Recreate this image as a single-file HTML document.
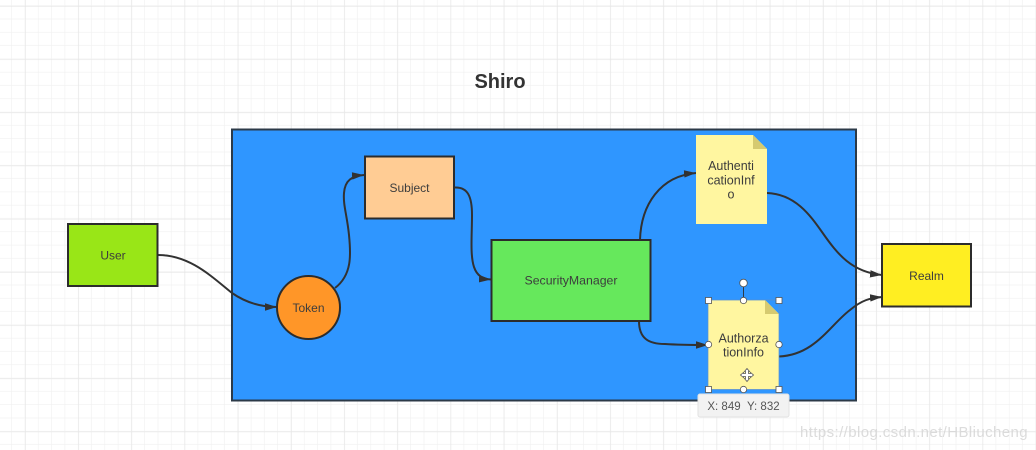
<!DOCTYPE html>
<html><head><meta charset="utf-8">
<style>
html,body{margin:0;padding:0;width:1036px;height:450px;overflow:hidden;background:#fff}
svg{display:block}
text{font-family:"Liberation Sans",sans-serif;fill:#3d3d3d;text-anchor:middle}
</style></head><body>
<svg width="1036" height="450" viewBox="0 0 1036 450" xmlns="http://www.w3.org/2000/svg">
<defs>
<pattern id="mi" x="-1.3" y="-7.3" width="13.3" height="13.3" patternUnits="userSpaceOnUse">
<path d="M13.3 0V13.3M0 13.3H13.3" stroke="#f0f0f0" stroke-width="1.2" fill="none"/></pattern>
<pattern id="ma" x="25" y="6" width="53.2" height="53.2" patternUnits="userSpaceOnUse">
<path d="M0 0V53.2M0 0H53.2" stroke="#e6e6e6" stroke-width="1.3" fill="none"/></pattern>
<marker id="a" markerUnits="userSpaceOnUse" markerWidth="13" markerHeight="9" refX="12" refY="4.500" orient="auto">
<path d="M0 0.800L12 4.500L0 8.200Z" fill="#323232"/></marker>
</defs>
<rect width="1036" height="450" fill="#fff"/>
<rect width="1036" height="450" fill="url(#mi)"/>
<rect width="1036" height="450" fill="url(#ma)"/>

<text x="500" y="88" font-size="20" font-weight="bold" style="fill:#333">Shiro</text>

<rect x="232" y="129.500" width="624" height="271" fill="#2f96ff" stroke="#2c3a48" stroke-width="2"/>

<g fill="none" stroke="#323232" stroke-width="2">
<path d="M158 255C190 255 212 277 232 293C245 302 260 307 277 307" marker-end="url(#a)"/>
<path d="M335 288C352 275 351 255 349 235C347 215 343 205 344 193C345 180 352 176 364 175" marker-end="url(#a)"/>
<path d="M455 187.500C468 187 472 197 472 215C472 235 470 255 474 267C477 276 483 279 491 279.500" marker-end="url(#a)"/>
<path d="M640 240C641 205 660 176 696 173" marker-end="url(#a)"/>
<path d="M639 321C639 338 648 344 665 344C680 345 695 345 708 345" marker-end="url(#a)"/>
<path d="M767 193C795 194 810 215 822 232C838 255 852 272 882 275" marker-end="url(#a)"/>
<path d="M779 356.500C815 355 830 325 850 310C862 300 870 298 882 297" marker-end="url(#a)"/>
</g>

<rect x="68" y="224" width="89.500" height="62" fill="#99e617" stroke="#2c2c2c" stroke-width="2"/>
<text x="113" y="259.500" font-size="12">User</text>

<circle cx="308.500" cy="307.500" r="31.500" fill="#ff9628" stroke="#2c2c2c" stroke-width="2"/>
<text x="308.500" y="312" font-size="12">Token</text>

<rect x="365" y="156.500" width="89" height="62" fill="#ffcc94" stroke="#2c2c2c" stroke-width="2"/>
<text x="409.500" y="192" font-size="12">Subject</text>

<rect x="491.500" y="240" width="159" height="81" fill="#66e85c" stroke="#2c2c2c" stroke-width="2"/>
<text x="571" y="284.500" font-size="12.300">SecurityManager</text>

<rect x="882" y="244" width="89" height="62.500" fill="#ffee22" stroke="#2c2c2c" stroke-width="2"/>
<text x="926.500" y="280" font-size="12">Realm</text>

<path d="M696 135H753L767 149V224H696Z" fill="#fff6a0"/>
<path d="M753 135L767 149H753Z" fill="#d6ca70"/>
<text x="731" y="170" font-size="12.500">Authenti</text>
<text x="731" y="184.500" font-size="12.500">cationInf</text>
<text x="731" y="198.500" font-size="12.500">o</text>

<path d="M708 300H765L779 314V389.500H708Z" fill="#fff6a0"/>
<path d="M765 300L779 314H765Z" fill="#d6ca70"/>
<text x="743.500" y="342.500" font-size="12.500">Authorza</text>
<text x="743.500" y="356.500" font-size="12.500">tionInfo</text>

<path d="M743.500 287V300" stroke="#2c3a48" stroke-width="1"/>
<path d="M708 300H779V389.500H708Z" fill="none" stroke="#5a8fd0" stroke-width="0.700"/>
<g fill="#fff" stroke="#555" stroke-width="0.800">
<circle cx="743.500" cy="283" r="3.800"/>
<circle cx="743.500" cy="300.500" r="3.200"/>
<circle cx="708.500" cy="344.500" r="3.200"/>
<circle cx="779" cy="344.500" r="3.200"/>
<circle cx="743.500" cy="389.500" r="3.200"/>
<rect x="705.500" y="297.500" width="6" height="6"/>
<rect x="776" y="297.500" width="6" height="6"/>
<rect x="705.500" y="386.500" width="6" height="6"/>
<rect x="776" y="386.500" width="6" height="6"/>
</g>
<g stroke="#555" fill="#fff" stroke-width="0.800">
<path d="M747 368.500L749.500 371.500H748.500V373.500H750.500V372.500L753.500 375L750.500 377.500V376.500H748.500V378.500H749.500L747 381.500L744.500 378.500H745.500V376.500H743.500V377.500L740.500 375L743.500 372.500V373.500H745.500V371.500H744.500Z"/>
</g>

<rect x="698" y="394" width="91" height="23" rx="2" fill="#f2f2f2" stroke="#e2e2e2" stroke-width="1"/>
<text x="743.500" y="410" font-size="11.500" style="fill:#555">X: 849&#160;&#160;Y: 832</text>

<text x="914" y="437" font-size="15" style="fill:#d6d6d6;opacity:.85" letter-spacing="0.400">https://blog.csdn.net/HBliucheng</text>
</svg>
</body></html>
